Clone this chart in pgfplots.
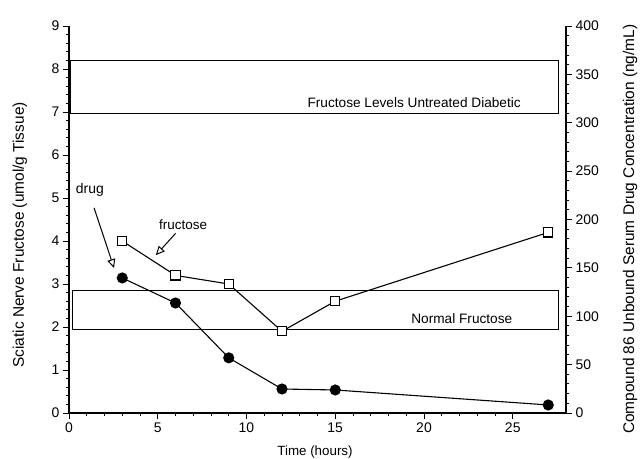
\documentclass[border=0pt]{standalone}
\usepackage{pgfplots}
\pgfplotsset{compat=1.18}
\usepackage{fontspec}
\setmainfont{Liberation Sans}
\usetikzlibrary{arrows.meta}
\begin{document}
\begin{tikzpicture}
\pgfplotsset{
  every axis/.append style={scale only axis,width=497bp,height=387bp,
    xmin=0,xmax=28,tick align=outside,major tick length=6bp,minor tick length=3bp,
    /pgf/number format/assume math mode=true,
    tick label style={font=\fontsize{14}{16}\selectfont},
    every tick/.style={black,line width=1pt},axis line style={line width=1.1pt}}}
\begin{axis}[axis x line*=bottom,axis y line*=left,ymin=0,ymax=9,
  xtick={0,5,...,25},ytick={0,1,...,9},minor x tick num=4,minor y tick num=4,clip=false]
% reference boxes
\addplot[black,line width=1pt] coordinates {(0.06,6.97) (27.6,6.97) (27.6,8.19) (0.06,8.19) (0.06,6.97)};
\addplot[black,line width=1pt] coordinates {(0.17,1.95) (27.6,1.95) (27.6,2.84) (0.17,2.84) (0.17,1.95)};
\node[anchor=east,font=\fontsize{13.7}{15}\selectfont] at (axis cs:25.65,7.21) {Fructose Levels Untreated Diabetic};
\node[font=\fontsize{13.7}{15}\selectfont] at (axis cs:22.13,2.19) {Normal Fructose};
% fructose
\addplot[black,line width=1.1pt,mark=square*,mark size=4.6bp,mark options={fill=white,line width=1.1pt}]
  coordinates {(3,4.0) (6,3.2) (9,3.0) (12,1.9) (15,2.6) (27,4.2)};
% annotations
\node[font=\fontsize{14}{16}\selectfont] at (axis cs:1.18,5.19) {drug};
\node[font=\fontsize{13.5}{15}\selectfont] at (axis cs:6.43,4.37) {fructose};
\draw[line width=1pt,-{Triangle[open,length=9bp,width=8bp]}] (axis cs:1.41,4.77) -- (axis cs:2.54,3.37);
\draw[line width=1pt,-{Triangle[open,length=9bp,width=8bp]}] (axis cs:6.01,4.18) -- (axis cs:4.89,3.67);
\node[rotate=90,font=\fontsize{15.5}{17}\selectfont] at (rel axis cs:-0.0986,0.46) {Sciatic Nerve Fructose (umol/g Tissue)};
\node[rotate=90,font=\fontsize{15.5}{17}\selectfont] at (rel axis cs:1.129,0.475) {Compound 86 Unbound Serum Drug Concentration (ng/mL)};
\node[font=\fontsize{13.4}{15}\selectfont] at (rel axis cs:0.495,-0.1008) {Time (hours)};
\end{axis}
\begin{axis}[axis x line=none,axis y line*=right,ymin=0,ymax=400,
  ytick={0,50,...,400},minor y tick num=4]
\addplot[black,line width=1.1pt,mark=*,mark size=5bp]
  coordinates {(3,139.6) (6,113.7) (9,57) (12,24.8) (15,23.8) (27,8.3)};
\end{axis}
\pgfresetboundingbox
\path[use as bounding box] (current axis.south west) ++(-69bp,-46bp) rectangle ++(640bp,459bp);
\end{tikzpicture}
\end{document}
